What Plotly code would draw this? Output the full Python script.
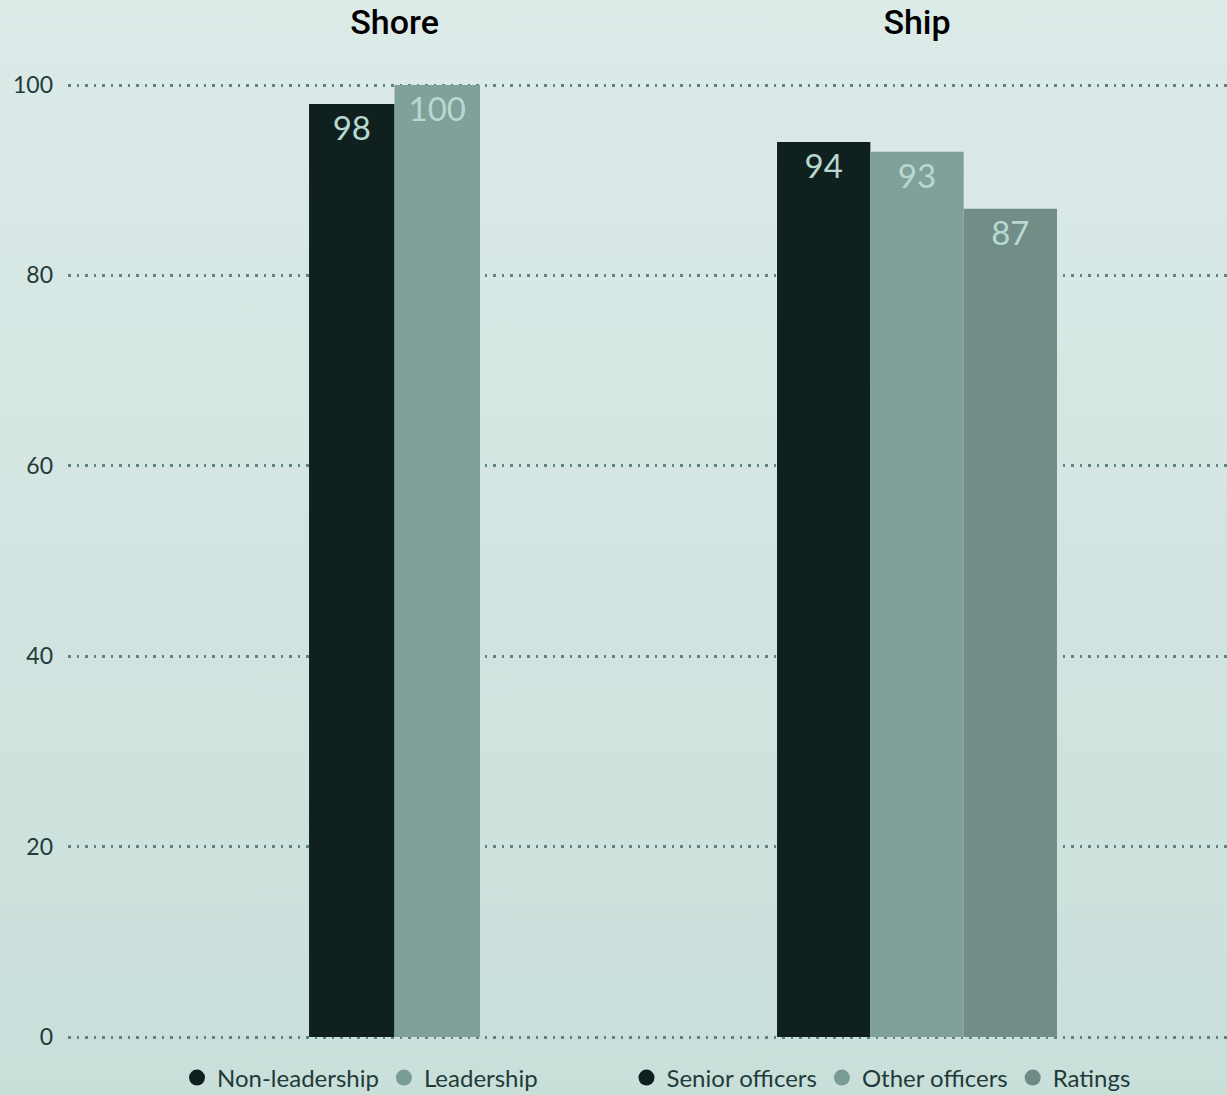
import base64
import plotly.graph_objects as go

# Survey results (%), by location and role
groups = ["Shore", "Ship"]

shore_series = ["Non-leadership", "Leadership"]
shore_values = [98, 100]

ship_series = ["Senior officers", "Other officers", "Ratings"]
ship_values = [94, 93, 87]

y_ticks = [0, 20, 40, 60, 80, 100]

# Styling
shore_colors = ["#10201f", "#80a09a"]
ship_colors = ["#10201f", "#80a09a", "#718d87"]
legend_shore_colors = ["#10201f", "#7a9c96"]
legend_ship_colors = ["#10201f", "#7a9c96", "#6d8a84"]
label_color = "#b8d8d0"
text_color = "#1f3b38"
grid_color = "#5f847f"
FONT = "Lato"

W, H = 1227, 1095
shore_w = 0.1636
ship_w = 0.1786

# y range padded slightly so the 0 and 100 grid lines are kept
Y_PAD = 0.3
px_per_unit = (1037 - 85) / 100.0
y_dom = [(H - 1037 - Y_PAD * px_per_unit) / H, (H - 85 + Y_PAD * px_per_unit) / H]

fig = go.Figure()

label_font = dict(family=FONT, size=33, color=label_color)

# Shore bars (two, side by side around the category centre)
for i, (name, val, col) in enumerate(zip(shore_series, shore_values, shore_colors)):
    fig.add_trace(go.Bar(
        x=[groups[0]], y=[val], name=name, width=shore_w,
        offset=(i - 1) * shore_w,
        marker=dict(color=col, line=dict(width=0)),
        texttemplate="%{y}", textposition="inside", insidetextanchor="end",
        textangle=0, constraintext="none", textfont=label_font,
        showlegend=False,
    ))

# Ship bars (three, centred on the category)
for i, (name, val, col) in enumerate(zip(ship_series, ship_values, ship_colors)):
    fig.add_trace(go.Bar(
        x=[groups[1]], y=[val], name=name, width=ship_w,
        offset=(i - 1.5) * ship_w,
        marker=dict(color=col, line=dict(width=0)),
        texttemplate="%{y}", textposition="inside", insidetextanchor="end",
        textangle=0, constraintext="none", textfont=label_font,
        showlegend=False,
    ))

# Legend entries with round markers
for name, col in zip(shore_series, legend_shore_colors):
    fig.add_trace(go.Scatter(
        x=[None], y=[None], mode="markers", name=name,
        marker=dict(symbol="circle", size=16, color=col),
        legend="legend",
    ))
for name, col in zip(ship_series, legend_ship_colors):
    fig.add_trace(go.Scatter(
        x=[None], y=[None], mode="markers", name=name,
        marker=dict(symbol="circle", size=16, color=col),
        legend="legend2",
    ))

# Soft vertical background gradient
svg = (
    '<svg xmlns="http://www.w3.org/2000/svg" width="100" height="100" preserveAspectRatio="none">'
    '<defs><linearGradient id="g" x1="0" y1="0" x2="0" y2="1">'
    '<stop offset="0" stop-color="#dceae8"/><stop offset="1" stop-color="#c9dfda"/>'
    '</linearGradient></defs><rect width="100" height="100" fill="url(#g)"/></svg>'
)
bg_src = "data:image/svg+xml;base64," + base64.b64encode(svg.encode()).decode()

legend_style = dict(
    orientation="h", xref="paper", yref="paper", yanchor="middle",
    xanchor="center", bgcolor="rgba(0,0,0,0)",
    font=dict(family=FONT, size=24, color=text_color),
    itemsizing="trace", itemwidth=30, tracegroupgap=0,
)

fig.update_layout(
    width=W, height=H,
    margin=dict(l=0, r=0, t=0, b=0, pad=0, autoexpand=False),
    paper_bgcolor="#d3e4e1",
    plot_bgcolor="rgba(0,0,0,0)",
    barmode="overlay",
    font=dict(family=FONT, color=text_color),
    images=[dict(source=bg_src, xref="paper", yref="paper", x=0, y=1,
                 sizex=1, sizey=1, sizing="stretch", xanchor="left",
                 yanchor="top", layer="below")],
    xaxis=dict(
        domain=[68 / W, 1], type="category", categoryorder="array",
        categoryarray=groups, range=[-0.6249, 1.5933],
        side="top", showgrid=False, showline=False, zeroline=False,
        ticks="", ticklabelstandoff=40, automargin=False,
        tickfont=dict(family="Roboto", size=34, color="#000000", weight=500),
    ),
    yaxis=dict(
        domain=y_dom, range=[-Y_PAD, 100 + Y_PAD],
        tickvals=y_ticks, ticks="", ticklabelstandoff=14, automargin=False,
        tickfont=dict(family=FONT, size=23, color=text_color),
        showgrid=True, gridcolor=grid_color, gridwidth=2.5,
        griddash="2.5px,6px", zeroline=False, showline=False,
    ),
    legend=dict(x=360 / W, y=17 / H, **legend_style),
    legend2=dict(x=881 / W, y=17 / H, **legend_style),
)

fig.write_html("out.html")
